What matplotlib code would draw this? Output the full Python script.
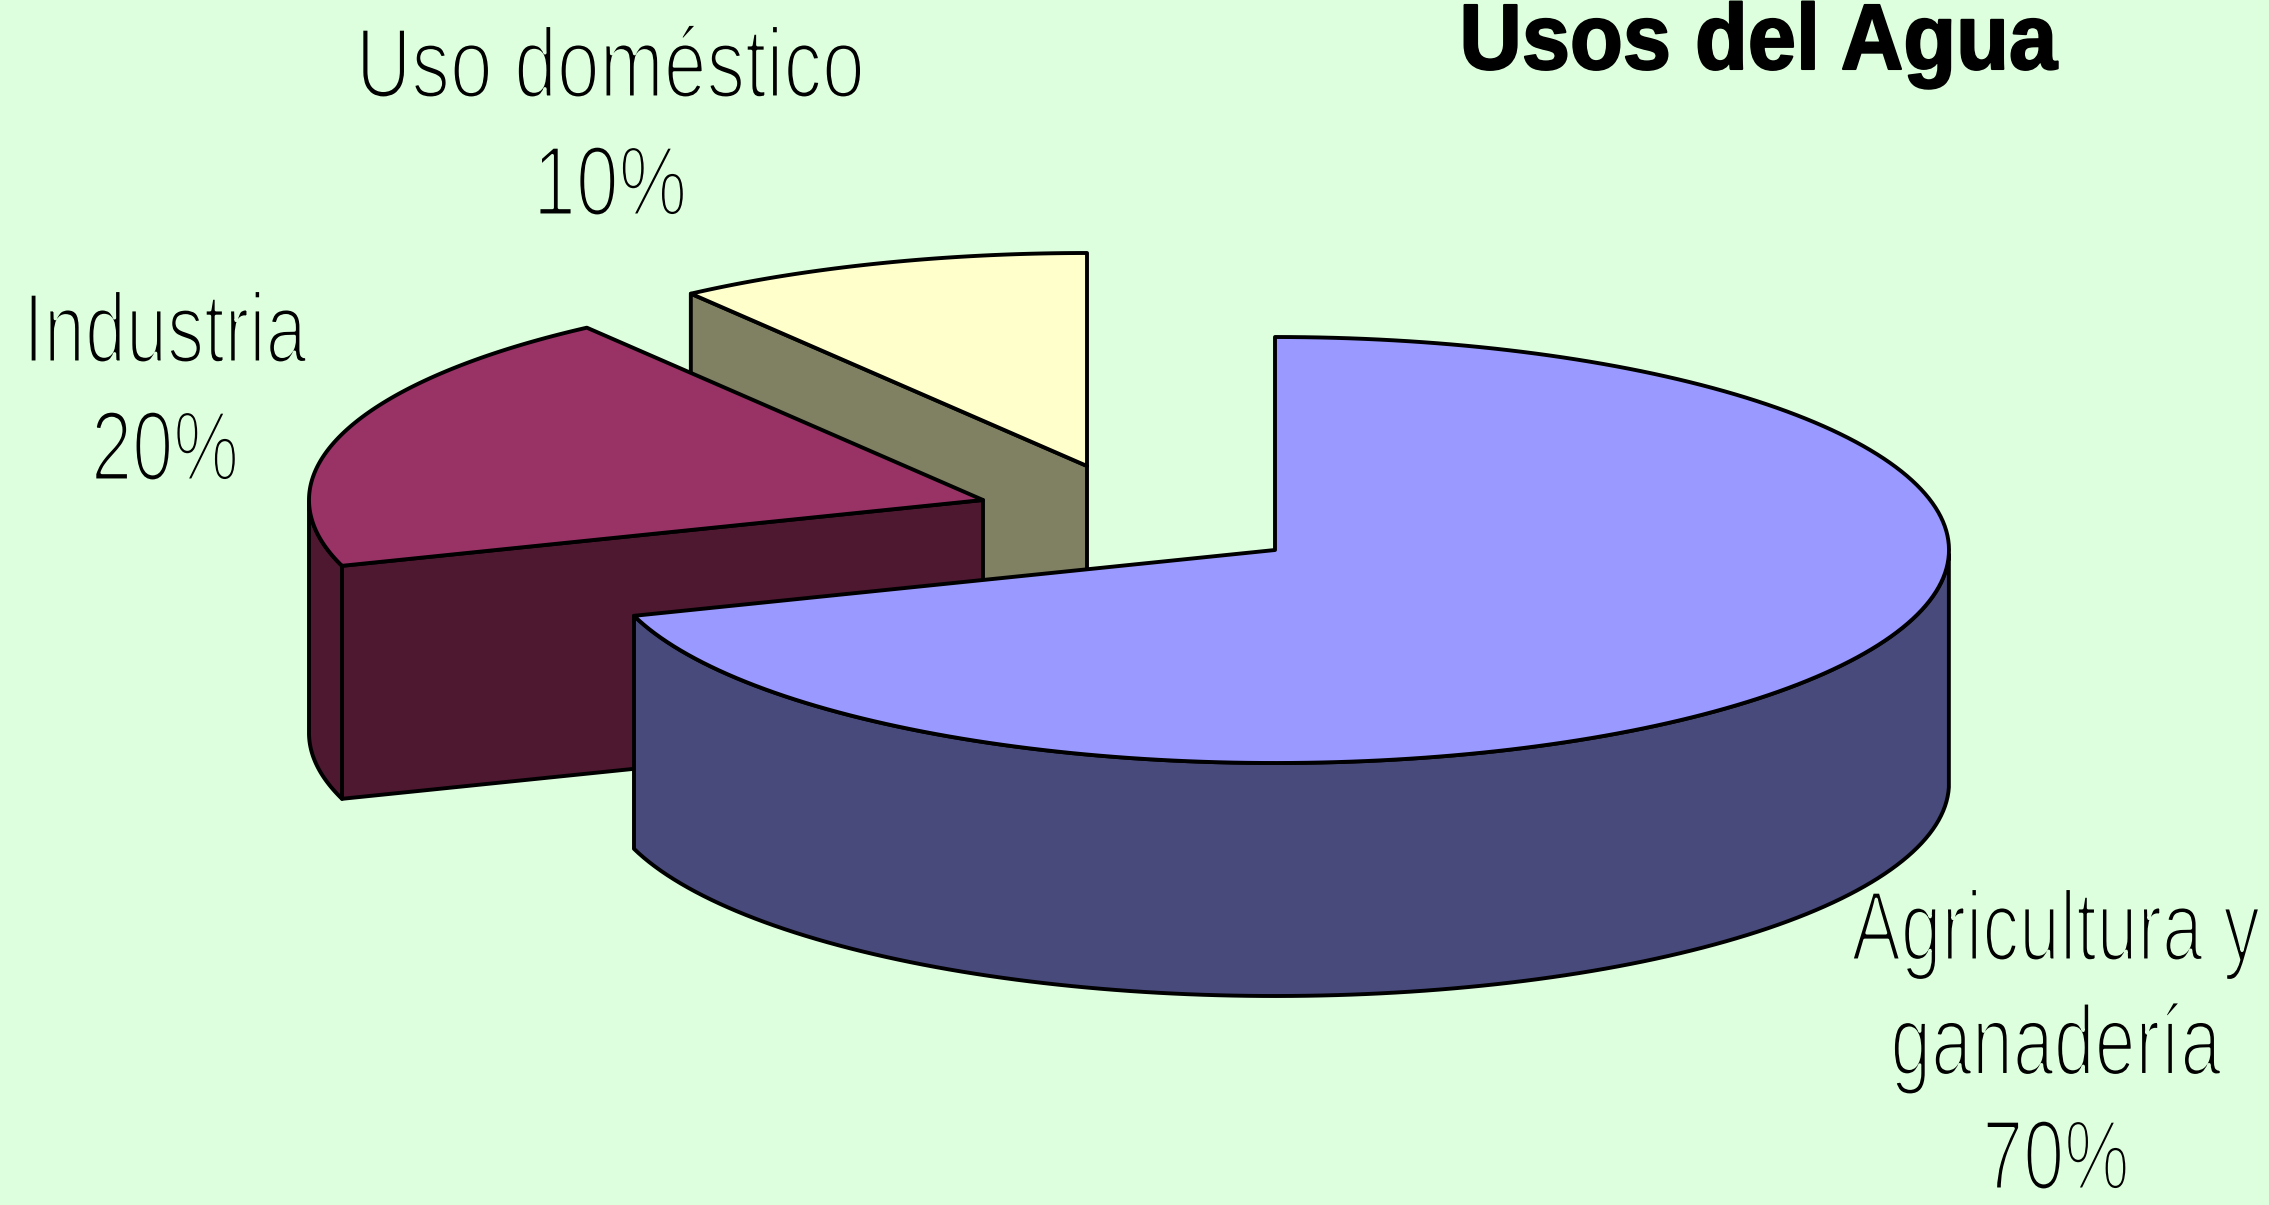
import numpy as np
import matplotlib
matplotlib.use("Agg")
import matplotlib.pyplot as plt
from matplotlib.patches import Polygon
from matplotlib.transforms import Affine2D
import matplotlib.patheffects as pe

# data
categories = ["Agricultura y\nganadería", "Industria", "Uso doméstico"]
shares = [70, 20, 10]
title = "Usos del Agua"

# style
top_colors = ["#9999FF", "#993366", "#FFFFCC"]
side_colors = ["#484A7C", "#4D1830", "#808062"]
apexes = [(1275, 550), (983, 500), (1087, 466)]
label_pos = [(2056, 960), (165, 362), (610, 97)]
label_sizes = [52.9, 53.2, 55.4]
label_lines = [114.5, 118, 118]
BG = "#DDFFDD"
RX, RY, DEPTH = 674, 213, 233
LW = 2.8
W, H = 2269, 1205

fig = plt.figure(figsize=(W / 100, H / 100), dpi=100, facecolor=BG)
ax = fig.add_axes([0, 0, 1, 1])
ax.set_xlim(0, W)
ax.set_ylim(H, 0)
ax.axis("off")


class Tall(pe.Stroke):
    """Stroke that also stretches the glyphs vertically about the baseline."""

    def __init__(self, sy, base, **kw):
        super().__init__(**kw)
        self.sy, self.base = sy, base

    def draw_path(self, renderer, gc, tpath, affine, rgbFace):
        stretch = Affine2D().translate(0, -self.base).scale(1, self.sy).translate(0, self.base)
        super().draw_path(renderer, gc, tpath, affine + stretch, rgbFace)


def tall_text(x, y, s, size, cap_size, linewidth, foreground, **kw):
    base = ax.transData.transform((x, y))[1]
    ax.text(x, y, s, ha="center", va="baseline", color="black",
            family="Liberation Sans", fontsize=size,
            path_effects=[Tall(cap_size / size, base, linewidth=linewidth,
                               foreground=foreground)], **kw)


def rim(cx, cy, t):
    return np.column_stack([cx + RX * np.cos(t), cy - RY * np.sin(t)])


def add(pts, color):
    ax.add_patch(Polygon(pts, closed=True, facecolor=color, edgecolor="black",
                         linewidth=LW, joinstyle="round"))


def faces_viewer(apex, edge, mid):
    """A radial cut is seen if the rest of the slice lies behind (above) it."""
    dx = edge[0] - apex[0]
    if abs(dx) < 1e-6:
        return False
    return mid[1] < apex[1] + (edge[1] - apex[1]) * (mid[0] - apex[0]) / dx


# slices run clockwise from 12 o'clock; draw back to front
angles = 90 - np.cumsum([0] + shares) * 3.6
for i in [2, 1, 0]:
    cx, cy = apexes[i]
    a0, a1 = np.radians(angles[i]), np.radians(angles[i + 1])
    t = np.linspace(a0, a1, 200)
    arc = rim(cx, cy, t)
    apex = np.array([cx, cy], dtype=float)
    drop = np.array([0, DEPTH])
    mid = arc[len(arc) // 2]
    for edge in (arc[0], arc[-1]):
        if faces_viewer(apex, edge, mid):
            add(np.array([apex, edge, edge + drop, apex + drop]), side_colors[i])
    front = arc[np.sin(t) <= 0]
    if len(front) > 1:
        add(np.vstack([front, (front + drop)[::-1]]), side_colors[i])
    add(np.vstack([apex[None], arc]), top_colors[i])

for name, share, (x, y), size, step in zip(categories, shares, label_pos, label_sizes, label_lines):
    lines = name.split("\n") + [f"{share}%"]
    for k, line in enumerate(lines):
        tall_text(x, y + k * step, line, size, 71, 2.2, BG)

tall_text(1758, 69, title, 62.3, 67, 1.5, "black", weight="bold")

fig.savefig("out.png", dpi=100, facecolor=BG)
